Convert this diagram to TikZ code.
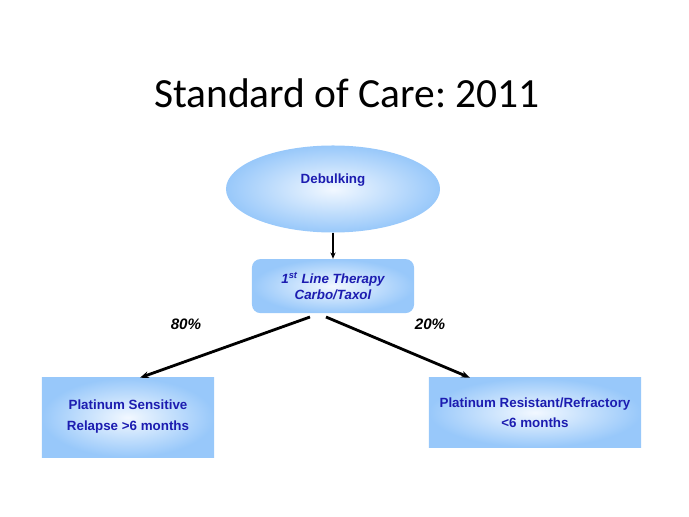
\documentclass[tikz,border=0pt]{standalone}
\usepackage{fontspec}
\setmainfont{Liberation Sans}
\newfontfamily\titlefont{Carlito}
\usetikzlibrary{arrows.meta,positioning,shapes.geometric,calc}

\definecolor{txtblue}{HTML}{1C1CB0}
\definecolor{boxblue}{HTML}{98C8FA}
\definecolor{boxlight}{HTML}{F2F8FF}

\begin{document}
\begin{tikzpicture}[
  x=0.025cm,y=-0.025cm,
  font=\bfseries\fontsize{9.5}{11.5}\selectfont,
  >={Stealth[length=2.2mm]},
  fillgrad/.style={shading=radial,inner color=boxlight,outer color=boxblue,
                   text=txtblue,align=center},
  card/.style={fillgrad,rectangle,inner sep=2pt},
  link/.style={->,black,line width=2pt},
  pct/.style={font=\bfseries\itshape\fontsize{10.8}{12}\selectfont},
]
\useasboundingbox (0,0) rectangle (689,517);

% ---- title ---------------------------------------------------------------
\node[font=\titlefont\fontsize{29.5}{34}\selectfont] (title) at (347,93) {\frenchspacing Standard of Care: 2011};

% ---- upper chain -------------------------------------------------------
\node[fillgrad,ellipse,minimum width=5.35cm,minimum height=2.175cm] (debulk) at (333,189)
   {\raisebox{15pt}{Debulking}};
\node[card,rounded corners=6pt,minimum width=4.05cm,minimum height=1.35cm,
      font=\bfseries\itshape\fontsize{9.5}{11.5}\selectfont,below=0.65cm of debulk] (line1)
   {1\textsuperscript{st} Line Therapy\\Carbo/Taxol};
\draw[->,>={Stealth[length=1.6mm,width=1.3mm]},black,line width=0.9pt] (debulk) -- (line1);

% ---- outcomes ----------------------------------------------------------
\node[card,minimum width=4.3cm,minimum height=1.975cm] (sens) at (128,417.5)
   {\\[-6pt]Platinum Sensitive\\[3pt]Relapse >6 months};
\node[card,minimum width=5.3cm,minimum height=1.725cm] (resist) at (535,412.5)
   {Platinum Resistant/Refractory\\[3pt]<6 months};

\coordinate (splitL) at (310,317);
\coordinate (splitR) at (326,317);
\draw[link] (splitL) -- ($(sens.north)+(12,0)$);
\draw[link] (splitR) -- ($(resist.north)+(-65,0)$);

\node[pct] (pL) at (186,324) {80\%};
\node[pct] (pR) at (430,324) {20\%};

\end{tikzpicture}
\end{document}
